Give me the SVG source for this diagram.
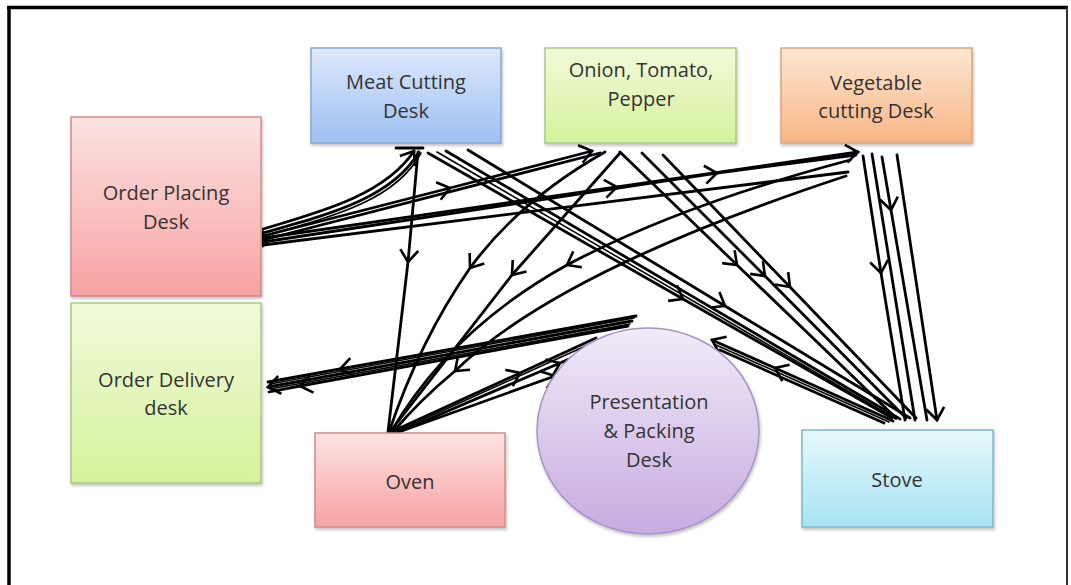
<svg xmlns="http://www.w3.org/2000/svg" width="1071" height="585" viewBox="0 0 1071 585">
<defs>
  <linearGradient id="gBlue" x1="0" y1="0" x2="0" y2="1"><stop offset="0" stop-color="#dde9fb"/><stop offset="1" stop-color="#9dbff3"/></linearGradient>
  <linearGradient id="gRed" x1="0" y1="0" x2="0" y2="1"><stop offset="0" stop-color="#fde3e3"/><stop offset="1" stop-color="#f7a2a2"/></linearGradient>
  <linearGradient id="gGreen" x1="0" y1="0" x2="0" y2="1"><stop offset="0" stop-color="#f1fad9"/><stop offset="1" stop-color="#d5f29c"/></linearGradient>
  <linearGradient id="gOrange" x1="0" y1="0" x2="0" y2="1"><stop offset="0" stop-color="#fde6d2"/><stop offset="1" stop-color="#f8b685"/></linearGradient>
  <linearGradient id="gPurple" x1="0" y1="0" x2="0" y2="1"><stop offset="0" stop-color="#f1ebf8"/><stop offset="1" stop-color="#c6abe0"/></linearGradient>
  <linearGradient id="gCyan" x1="0" y1="0" x2="0" y2="1"><stop offset="0" stop-color="#e6f8fc"/><stop offset="1" stop-color="#a6e3f3"/></linearGradient>
  <filter id="sh" x="-10%" y="-10%" width="125%" height="125%">
    <feDropShadow dx="1" dy="2" stdDeviation="1.5" flood-color="#000" flood-opacity="0.25"/>
  </filter>
  <marker id="chev" markerUnits="userSpaceOnUse" markerWidth="24" markerHeight="24" viewBox="-14 -12 16 24" refX="0" refY="0" orient="auto" overflow="visible">
    <path d="M -12 -9 L 0 0 L -12 9" fill="none" stroke="#000" stroke-width="2.6"/>
  </marker>
</defs>
<style>
  .lbl { font-family: "Open Sans", "Liberation Sans", sans-serif; font-size: 20px; fill: #333333; text-anchor: middle; }
  .box { stroke-width: 1.5; filter: url(#sh); }
  .c { fill: none; stroke: #000; stroke-width: 2.8; stroke-linecap: round; }
  .t { fill: none; stroke: #000; stroke-width: 1.6; stroke-linecap: round; }
  .m { marker-mid: url(#chev); }
  .e { marker-end: url(#chev); }
</style>
<rect width="1071" height="585" fill="#ffffff"/>
<g id="frame">
  <line x1="7" y1="7.5" x2="1068" y2="7.5" stroke="#000" stroke-width="3.5"/>
  <line x1="9" y1="6" x2="9" y2="585" stroke="#000" stroke-width="3.5"/>
  <line x1="1067" y1="7" x2="1067" y2="585" stroke="#333" stroke-width="2"/>
</g>

<g id="connectors">
  <!-- Order Placing -> Meat -->
  <path class="c e" d="M 263 229 C 320 212, 385 195, 414 151"/>
  <path class="c" d="M 263 233 C 330 214, 392 198, 419 152"/>
  <path class="t" d="M 263 236 C 335 216, 396 200, 421 153"/>
  <path class="c" d="M 396 148 L 423 148" stroke-width="4"/>
  <!-- Order Placing -> Onion -->
  <path class="c m e" d="M 263 236 L 450 188 L 592 151"/>
  <path class="c" d="M 263 240 L 600 153"/>
  <!-- Order Placing -> Vegetable -->
  <path class="c m e" d="M 263 238 L 617 187 L 858 152"/>
  <path class="c m" d="M 263 242 L 717 173 L 856 155"/>
  <path class="c" d="M 263 245 L 848 172"/>
  <path class="c" d="M 263 232 L 263 246" stroke-width="4"/>
  <!-- Meat -> Oven -->
  <path class="c m" d="M 418 152 L 408 262 L 388 432"/>
  <!-- Onion -> Oven -->
  <path class="c m" d="M 605 152 Q 520 200 470 268 Q 420 340 389 432"/>
  <path class="c m" d="M 620 153 L 512 275 L 390 432"/>
  <!-- Vegetable -> Oven -->
  <path class="c m" d="M 850 160 Q 680 205 567 265 Q 450 330 391 432"/>
  <path class="c m" d="M 846 176 Q 560 270 455 371 Q 420 400 393 432"/>
  <!-- Presentation -> Order Delivery -->
  <path class="c m" d="M 636 316 L 340 369 L 268 382"/>
  <path class="c e" d="M 632 321 L 268 387"/>
  <path class="c m" d="M 628 326 L 300 386 L 269 392"/>
  <path class="t" d="M 634 318 L 270 384"/>
  <path class="t" d="M 630 324 L 270 389"/>
  <!-- Oven -> Presentation -->
  <path class="c m" d="M 391 432 L 520 373 L 596 338"/>
  <path class="c m" d="M 394 434 L 560 363 L 585 352"/>
  <path class="c e" d="M 396 433 L 555 376"/>
  <path class="t" d="M 393 433 L 590 344"/>
  <!-- Meat -> Stove -->
  <path class="c m" d="M 428 153 L 683 299 L 892 418"/>
  <path class="c" d="M 446 151 L 900 419"/>
  <path class="t" d="M 437 152 L 896 419"/>
  <path class="c m" d="M 468 150 L 725 306 L 910 418"/>
  <!-- Onion -> Stove -->
  <path class="c m" d="M 620 152 L 737 265 L 896 418"/>
  <path class="c m" d="M 642 153 L 765 276 L 906 418"/>
  <path class="c m" d="M 663 155 L 790 287 L 916 418"/>
  <!-- Vegetable -> Stove -->
  <path class="c m" d="M 863 156 L 881 273 L 905 420"/>
  <path class="c" d="M 872 154 L 915 420"/>
  <path class="c m" d="M 882 157 L 891 210 L 927 420"/>
  <path class="c e" d="M 897 155 L 937 420"/>
  <!-- Stove -> Presentation -->
  <path class="c m e" d="M 893 421 L 775 368 L 712 340"/>
  <path class="c" d="M 884 423 L 720 350"/>
  <path class="t" d="M 889 422 L 716 345"/>
</g>

<g id="meat-cutting">
  <rect class="box" x="311" y="48" width="190" height="95" fill="url(#gBlue)" stroke="#8aa6cf"/>
  <text class="lbl" x="406" y="89">Meat Cutting</text>
  <text class="lbl" x="406" y="118">Desk</text>
</g>
<g id="onion-tomato-pepper">
  <rect class="box" x="545" y="48" width="191" height="95" fill="url(#gGreen)" stroke="#a9c985"/>
  <text class="lbl" x="641" y="77">Onion, Tomato,</text>
  <text class="lbl" x="641" y="106">Pepper</text>
</g>
<g id="vegetable-cutting">
  <rect class="box" x="781" y="48" width="191" height="95" fill="url(#gOrange)" stroke="#d9a77c"/>
  <text class="lbl" x="876" y="90">Vegetable</text>
  <text class="lbl" x="876" y="118">cutting Desk</text>
</g>
<g id="order-placing">
  <rect class="box" x="71" y="117" width="190" height="179" fill="url(#gRed)" stroke="#d08b8b"/>
  <text class="lbl" x="166" y="200">Order Placing</text>
  <text class="lbl" x="166" y="229">Desk</text>
</g>
<g id="order-delivery">
  <rect class="box" x="71" y="303" width="190" height="180" fill="url(#gGreen)" stroke="#a9c985"/>
  <text class="lbl" x="166" y="387">Order Delivery</text>
  <text class="lbl" x="166" y="415">desk</text>
</g>
<g id="oven">
  <rect class="box" x="315" y="433" width="190" height="94" fill="url(#gRed)" stroke="#d08b8b"/>
  <text class="lbl" x="410" y="489">Oven</text>
</g>
<g id="presentation-packing">
  <ellipse class="box" cx="648" cy="431" rx="111" ry="103" fill="url(#gPurple)" stroke="#a993c6"/>
  <text class="lbl" x="649" y="409">Presentation</text>
  <text class="lbl" x="649" y="438">&amp; Packing</text>
  <text class="lbl" x="649" y="467">Desk</text>
</g>
<g id="stove">
  <rect class="box" x="802" y="430" width="191" height="97" fill="url(#gCyan)" stroke="#7fb8c6"/>
  <text class="lbl" x="897" y="487">Stove</text>
</g>
</svg>
